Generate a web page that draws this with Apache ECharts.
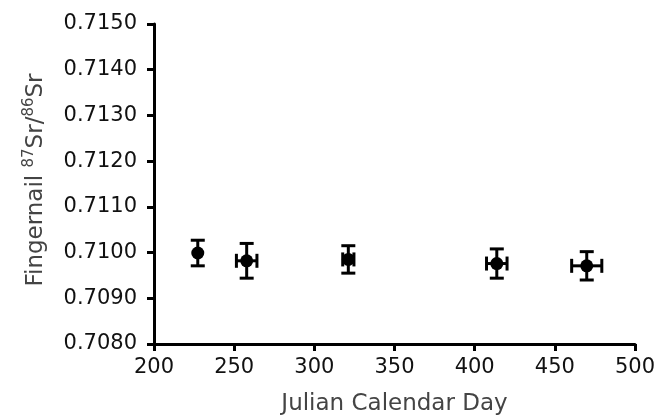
<!DOCTYPE html>
<html>
<head>
<meta charset="utf-8">
<script src="https://cdn.jsdelivr.net/npm/echarts@6/dist/echarts.min.js"></script>
<style>html,body{margin:0;padding:0;background:#fff}#c{width:658px;height:417px}</style>
</head>
<body>
<div id="c"></div>
<script>
var days = [227.3, 257.8, 321.2, 413.8, 469.9];
var ratios = [0.70999, 0.70982, 0.70985, 0.70976, 0.70971];
var dayErr = [1.5, 6.4, 3.5, 6.4, 9.4];
var ratioErr = [0.00028, 0.00038, 0.00030, 0.00032, 0.00031];
var xTicks = [200, 250, 300, 350, 400, 450, 500];
var yTicks = [0.7080, 0.7090, 0.7100, 0.7110, 0.7120, 0.7130, 0.7140, 0.7150];

var chart = echarts.init(document.getElementById('c'));
var pts = days.map(function (d, i) { return [d, ratios[i], dayErr[i], ratioErr[i]]; });
var font = 'DejaVu Sans, sans-serif';
var cap = 7;

chart.setOption({
  animation: false,
  grid: { left: 154, right: 23, top: 24, bottom: 73, containLabel: false, outerBoundsMode: 'none' },
  xAxis: {
    type: 'value', min: xTicks[0], max: xTicks[xTicks.length - 1], interval: 50,
    splitLine: { show: false },
    axisLine: { lineStyle: { color: '#000', width: 3 } },
    axisTick: { length: 7, lineStyle: { color: '#000', width: 3 } },
    axisLabel: { color: '#111', fontSize: 21, fontFamily: font, margin: 13 },
    name: 'Julian Calendar Day', nameLocation: 'middle', nameGap: 49,
    nameTextStyle: { color: '#444', fontSize: 23, fontFamily: font }
  },
  yAxis: {
    type: 'value', min: yTicks[0], max: yTicks[yTicks.length - 1], interval: 0.001,
    splitLine: { show: false },
    axisLine: { show: true, lineStyle: { color: '#000', width: 3 } },
    axisTick: { show: true, length: 7, lineStyle: { color: '#000', width: 3 } },
    axisLabel: { color: '#111', fontSize: 21, fontFamily: font, margin: 17,
      formatter: function (v) { return v.toFixed(4); } },
    name: '{n|Fingernail }{s|87}{n|Sr/}{s|86}{n|Sr}', nameLocation: 'middle', nameGap: 106, nameRotate: 90,
    nameTextStyle: {
      padding: [0, 0, 0, 8],
      rich: {
        n: { color: '#444', fontSize: 23, fontFamily: font, lineHeight: 26, verticalAlign: 'bottom' },
        s: { color: '#444', fontSize: 15, fontFamily: font, lineHeight: 26, verticalAlign: 'top' }
      }
    }
  },
  series: [
    {
      type: 'custom',
      data: pts,
      z: 3,
      renderItem: function (params, api) {
        var x = api.value(0), y = api.value(1), ex = api.value(2), ey = api.value(3);
        var c = api.coord([x, y]);
        var top = api.coord([x, y + ey])[1], bot = api.coord([x, y - ey])[1];
        var l = api.coord([x - ex, y])[0], r = api.coord([x + ex, y])[0];
        var st = { stroke: '#000', lineWidth: 3 };
        var ch = [
          { type: 'line', shape: { x1: c[0], y1: top, x2: c[0], y2: bot }, style: st },
          { type: 'line', shape: { x1: c[0] - cap, y1: top, x2: c[0] + cap, y2: top }, style: st },
          { type: 'line', shape: { x1: c[0] - cap, y1: bot, x2: c[0] + cap, y2: bot }, style: st }
        ];
        if (r - l > 6) {
          ch.push({ type: 'line', shape: { x1: l, y1: c[1], x2: r, y2: c[1] }, style: st });
          ch.push({ type: 'line', shape: { x1: l, y1: c[1] - cap, x2: l, y2: c[1] + cap }, style: st });
          ch.push({ type: 'line', shape: { x1: r, y1: c[1] - cap, x2: r, y2: c[1] + cap }, style: st });
        }
        return { type: 'group', children: ch };
      }
    },
    {
      type: 'scatter',
      data: pts.map(function (p) { return [p[0], p[1]]; }),
      symbol: 'circle', symbolSize: 13,
      itemStyle: { color: '#000', opacity: 1 },
      z: 4
    }
  ]
});
</script>
</body>
</html>
